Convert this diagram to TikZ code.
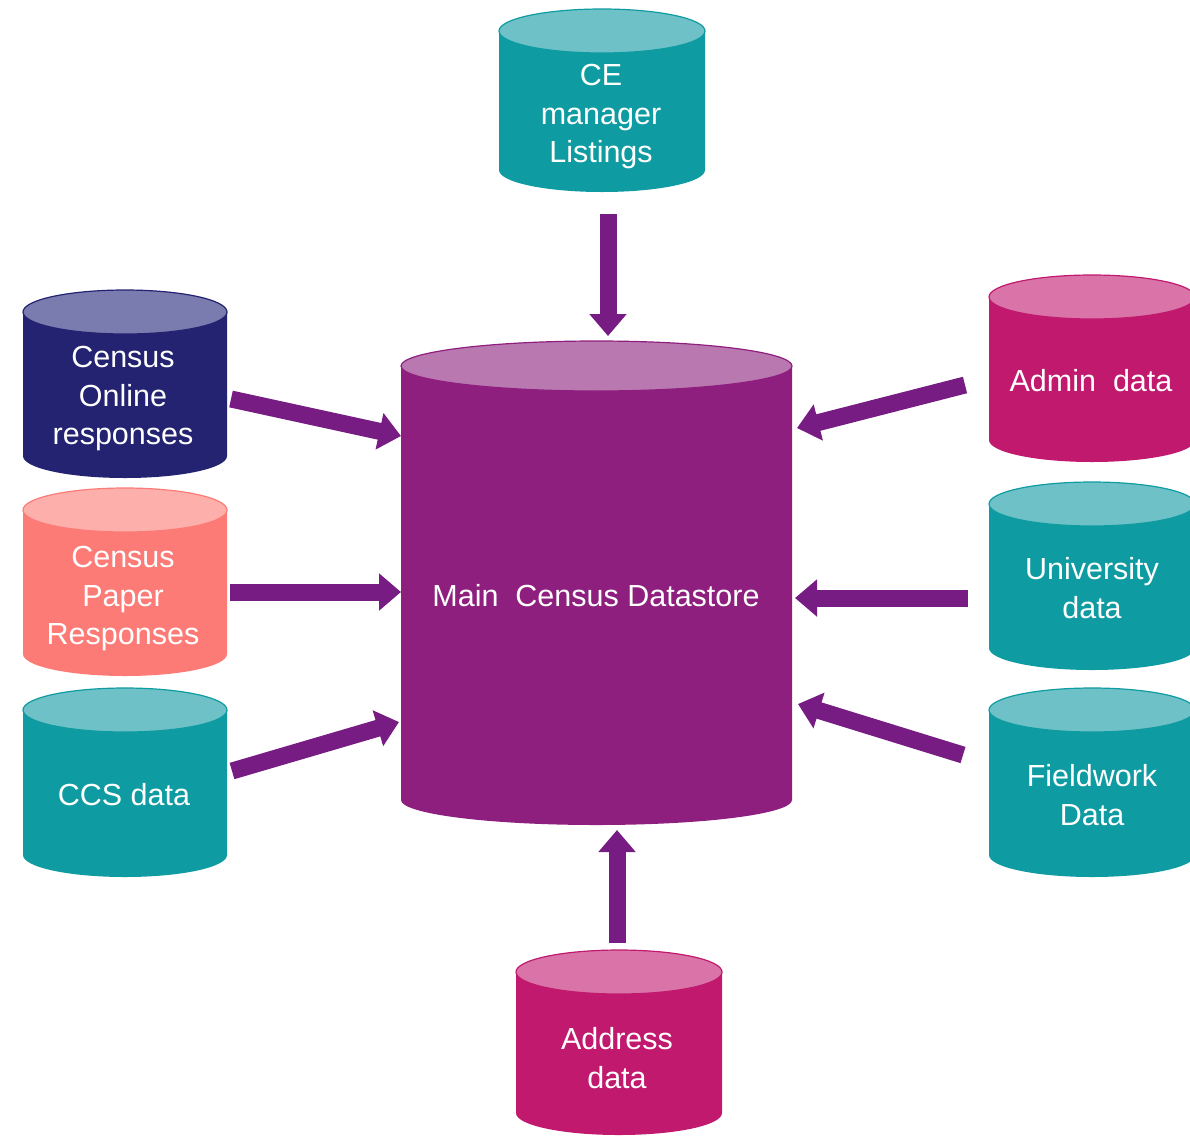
\documentclass[tikz,border=0pt]{standalone}
\usepackage{fontspec}
\setmainfont{Liberation Sans}
\usetikzlibrary{arrows.meta}

\definecolor{tealbody}{HTML}{0E9BA1}
\definecolor{teallid}{HTML}{6EC2C7}
\definecolor{navybody}{HTML}{232371}
\definecolor{navylid}{HTML}{7A7BAE}
\definecolor{salmonbody}{HTML}{FD7B76}
\definecolor{salmonlid}{HTML}{FDAFAC}
\definecolor{pinkbody}{HTML}{C0196E}
\definecolor{pinklid}{HTML}{DA74A8}
\definecolor{mainbody}{HTML}{8E1F7E}
\definecolor{mainlid}{HTML}{BA78B1}
\definecolor{feedpurple}{HTML}{771C83}

% left x, top y, bottom y, x radius, y radius, colour name
\newcommand{\datastore}[6]{%
  \fill[#6body] (#1,-#2) -- (#1,-#3) arc[start angle=180,end angle=360,x radius=#4,y radius=#5] -- ({#1+2*#4},-#2) -- cycle;
  \filldraw[fill=#6lid,draw=#6body,line width=1.2pt] ({#1+#4},-#2) ellipse[x radius=#4,y radius=#5];
}

\begin{document}
\begin{tikzpicture}[x=1pt,y=1pt,
  lbl/.style={text=white,align=center,font=\fontsize{30.5}{38.5}\selectfont},
  feed/.style={draw=feedpurple,line width=17pt,-{Triangle[length=22pt,width=36pt]}}]
\useasboundingbox (0,0) rectangle (1190,-1136);

\datastore{401}{366}{800}{195.5}{25}{main}
\datastore{499}{31}{170}{103}{22}{teal}
\datastore{23}{312}{456}{102}{22}{navy}
\datastore{23}{510}{654}{102}{22}{salmon}
\datastore{23}{710}{855}{102}{22}{teal}
\datastore{989}{297}{440}{103}{22}{pink}
\datastore{989}{504}{648}{103}{22}{teal}
\datastore{989}{710}{855}{103}{22}{teal}
\datastore{516}{972}{1113}{103}{22}{pink}

\node[lbl] (main) at (596,-596) {Main\ \ Census Datastore};
\node[lbl] (ce) at (601,-117) {CE\\manager\\Listings};
\node[lbl] (online) at (123,-399) {Census\\Online\\responses};
\node[lbl] (paper) at (123,-599) {Census\\Paper\\Responses};
\node[lbl] (ccs) at (124,-795) {CCS data};
\node[lbl] (admin) at (1091,-381) {Admin\ \ data};
\node[lbl] (uni) at (1092,-588) {University\\data};
\node[lbl] (field) at (1092,-795) {Fieldwork\\Data};
\node[lbl] (address) at (617,-1058) {Address\\data};

% arrow ends
\coordinate (ceout) at (608,-214);   \coordinate (cein) at (608,-336);
\coordinate (onout) at (231,-399);   \coordinate (onin) at (401,-436);
\coordinate (paout) at (230,-592);   \coordinate (pain) at (401,-592);
\coordinate (ccout) at (232,-771);   \coordinate (ccin) at (399,-722);
\coordinate (adout) at (965,-385);   \coordinate (adin) at (797,-428);
\coordinate (unout) at (968,-598);   \coordinate (unin) at (795,-598);
\coordinate (fiout) at (963,-755);   \coordinate (fiin) at (798,-704);
\coordinate (addout) at (617,-943);  \coordinate (addin) at (617,-830);

\draw[feed] (ceout) -- (cein);
\draw[feed] (onout) -- (onin);
\draw[feed] (paout) -- (pain);
\draw[feed] (ccout) -- (ccin);
\draw[feed] (adout) -- (adin);
\draw[feed] (unout) -- (unin);
\draw[feed] (fiout) -- (fiin);
\draw[feed] (addout) -- (addin);

\end{tikzpicture}
\end{document}
